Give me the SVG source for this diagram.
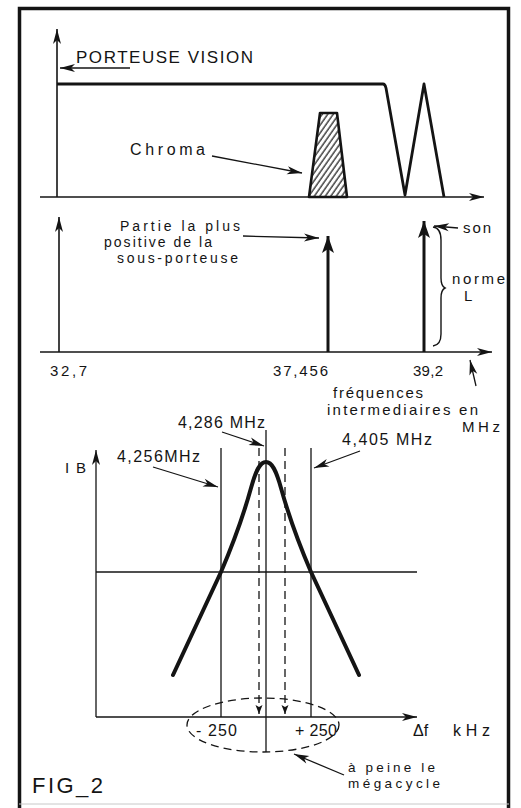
<svg xmlns="http://www.w3.org/2000/svg" width="521" height="808" viewBox="0 0 521 808">
<style>
text{font-family:"Liberation Sans","DejaVu Sans",sans-serif;fill:#141414}
.t14{font-size:14px}
.t15{font-size:15px}
.t16{font-size:16px}
.ln{stroke:#141414;fill:none;stroke-width:1.3}
.ax{stroke:#141414;fill:none;stroke-width:1.6}
.thk{stroke:#141414;fill:none;stroke-width:3;stroke-linejoin:round}
.ds{stroke:#141414;fill:none;stroke-width:1.3;stroke-dasharray:8 5}
</style>
<defs>
<marker id="arr" markerUnits="userSpaceOnUse" orient="auto" markerWidth="20" markerHeight="12" refX="0" refY="0" viewBox="-16 -6 17 12" overflow="visible">
<path d="M0,0 L-15,-4 L-11,0 L-15,4 Z" fill="#141414"/>
</marker>
<marker id="arrT" markerUnits="userSpaceOnUse" orient="auto" markerWidth="20" markerHeight="14" refX="0" refY="0" viewBox="-18 -7 19 14" overflow="visible">
<path d="M0,0 L-17,-6 L-13,0 L-17,6 Z" fill="#141414"/>
</marker>
<marker id="arrS" markerUnits="userSpaceOnUse" orient="auto" markerWidth="12" markerHeight="10" refX="0" refY="0" viewBox="-10 -5 11 10" overflow="visible">
<path d="M0,0 L-9,-3.5 L-7,0 L-9,3.5 Z" fill="#141414"/>
</marker>
<pattern id="hatch" width="4.5" height="4.5" patternUnits="userSpaceOnUse" patternTransform="rotate(35)">
<line x1="1" y1="0" x2="1" y2="4.5" stroke="#141414" stroke-width="1.2"/>
</pattern>
</defs>

<g id="frame">
<path d="M19.5,808 L19.5,8.5 L508.5,8.5 L508.5,808" fill="none" stroke="#141414" stroke-width="3.5"/>
<line x1="19" y1="804" x2="509" y2="804" stroke="#c8c8c8" stroke-width="1"/>
</g>

<g id="connectors">
<!-- top plot -->
<line class="ax" x1="57" y1="197" x2="57" y2="29" marker-end="url(#arr)"/>
<line class="ax" x1="40" y1="197" x2="484" y2="197" marker-end="url(#arr)"/>
<line class="ax" x1="130" y1="68" x2="60" y2="68" marker-end="url(#arr)"/>
<line class="ln" x1="212" y1="156" x2="302" y2="173" marker-end="url(#arr)"/>
<!-- middle plot -->
<line class="ax" x1="59" y1="352" x2="59" y2="217" marker-end="url(#arr)"/>
<line class="ax" x1="40" y1="352" x2="492" y2="352" marker-end="url(#arr)"/>
<line class="thk" x1="328" y1="352" x2="328" y2="236" marker-end="url(#arrT)"/>
<line class="thk" x1="424" y1="352" x2="424" y2="221" marker-end="url(#arrT)"/>
<line class="ln" x1="243" y1="236" x2="319" y2="238" marker-end="url(#arr)"/>
<line class="ln" x1="458" y1="228" x2="434" y2="226" marker-end="url(#arr)"/>
<line class="ln" x1="476" y1="386" x2="470" y2="360" marker-end="url(#arr)"/>
<!-- bottom plot -->
<line class="ln" x1="96" y1="717" x2="96" y2="450" marker-end="url(#arr)"/>
<line class="ln" x1="96" y1="717" x2="417" y2="717" marker-end="url(#arr)"/>
<line class="ln" x1="153" y1="467" x2="218" y2="487" marker-end="url(#arr)"/>
<line class="ln" x1="222" y1="432" x2="264" y2="446" marker-end="url(#arr)"/>
<line class="ln" x1="360" y1="451" x2="314" y2="468" marker-end="url(#arr)"/>
<line class="ln" x1="344" y1="775" x2="294" y2="754" marker-end="url(#arr)"/>
<line class="ds" x1="259" y1="448" x2="259" y2="714" marker-end="url(#arrS)"/>
<line class="ds" x1="285" y1="448" x2="285" y2="714" marker-end="url(#arrS)"/>
</g>

<g id="spectrum-top">
<path d="M57,84 L383,84 Q385,84 386,88 L405,195 L424,84 L444,197" fill="none" stroke="#141414" stroke-width="2.8" stroke-linejoin="round"/>
<path id="chroma-band" d="M309,197 L320,113 L337,113 L347,197 Z" fill="url(#hatch)" stroke="#141414" stroke-width="2.6" stroke-linejoin="round"/>
</g>

<g id="labels-top">
<text x="76" y="63" style="font-size:17px" textLength="177" lengthAdjust="spacing">PORTEUSE VISION</text>
<text class="t16" x="130" y="155" textLength="75" lengthAdjust="spacing">Chroma</text>
</g>

<g id="brace">
<path d="M433,227 Q441,228 441,240 L441,278 Q441,286 445,288 Q441,290 441,298 L441,334 Q441,345 433,346" fill="none" stroke="#141414" stroke-width="1.4"/>
</g>

<g id="labels-middle">
<text class="t14" x="120" y="231" textLength="120" lengthAdjust="spacing">Partie la plus</text>
<text class="t14" x="104" y="247" textLength="108" lengthAdjust="spacing">positive de la</text>
<text class="t14" x="117" y="263" textLength="121" lengthAdjust="spacing">sous-porteuse</text>
<text class="t15" x="463" y="233" textLength="28" lengthAdjust="spacing">son</text>
<text class="t15" x="452" y="284" textLength="53" lengthAdjust="spacing">norme</text>
<text class="t15" x="464" y="301">L</text>
<text class="t15" x="50" y="376" textLength="37" lengthAdjust="spacing">32,7</text>
<text class="t15" x="273" y="376" textLength="55" lengthAdjust="spacing">37,456</text>
<text class="t15" x="413" y="376" textLength="30" lengthAdjust="spacing">39,2</text>
<text class="t15" x="333" y="398" textLength="90" lengthAdjust="spacing">fréquences</text>
<text class="t15" x="327" y="415" textLength="151" lengthAdjust="spacing">intermediaires en</text>
<text class="t15" x="462" y="432" textLength="38" lengthAdjust="spacing">MHz</text>
</g>

<g id="response-plot">
<line class="ln" x1="96" y1="572" x2="417" y2="572"/>
<line class="ln" x1="221" y1="448" x2="221" y2="717"/>
<line class="ln" x1="311" y1="448" x2="311" y2="717"/>
<line class="ln" x1="266" y1="430" x2="266" y2="752"/>
<path d="M173,675 L221,572 C230,551 243,517 251,488 C256,470 260,462 266,462 C272,462 276,470 281,488 C289,517 302,551 311,572 L359,675" fill="none" stroke="#141414" stroke-width="4" stroke-linecap="round" stroke-linejoin="round"/>
<ellipse class="ds" cx="263" cy="725" rx="76" ry="27"/>
</g>

<g id="labels-bottom">
<text class="t16" x="178" y="428" textLength="87" lengthAdjust="spacing">4,286 MHz</text>
<text class="t16" x="117" y="462" textLength="83" lengthAdjust="spacing">4,256MHz</text>
<text class="t16" x="342" y="445" textLength="90" lengthAdjust="spacing">4,405 MHz</text>
<text class="t15" x="65" y="473" textLength="21" lengthAdjust="spacing">IB</text>
<text class="t16" x="196" y="736" textLength="41" lengthAdjust="spacing">- 250</text>
<text class="t16" x="295" y="736" textLength="42" lengthAdjust="spacing">+ 250</text>
<text class="t16" x="413" y="736">Δf</text>
<text class="t16" x="453" y="736" textLength="37" lengthAdjust="spacing">kHz</text>
<text x="348" y="772" style="font-size:13.5px" textLength="87" lengthAdjust="spacing">à peine le</text>
<text x="348" y="788" style="font-size:13.5px" textLength="92" lengthAdjust="spacing">mégacycle</text>
<text x="32" y="793" style="font-size:22px" textLength="71" lengthAdjust="spacing">FIG_2</text>
</g>
</svg>
